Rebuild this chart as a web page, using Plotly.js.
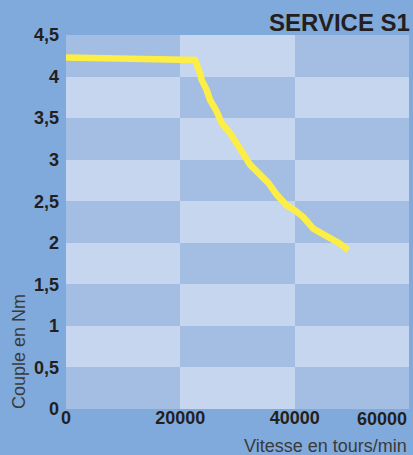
<!DOCTYPE html>
<html>
<head>
<meta charset="utf-8">
<script src="https://cdn.plot.ly/plotly-3.0.1.min.js"></script>
<style>html,body{margin:0;padding:0;background:#80aadb;}#chart{width:413px;height:455px;}</style>
</head>
<body>
<div id="chart"></div>
<script>
// Data
const speed = [0, 10000, 22000, 22570, 23440, 23730, 24600, 25190, 26360, 27230, 28690, 29850, 30730, 32190, 33930, 35390, 36850, 38600, 40060, 41510, 43260, 45010, 46760, 47930, 49390];
const torque = [4.23, 4.22, 4.21, 4.20, 4.04, 3.96, 3.84, 3.72, 3.58, 3.44, 3.32, 3.18, 3.10, 2.94, 2.82, 2.72, 2.58, 2.45, 2.39, 2.31, 2.17, 2.11, 2.05, 1.99, 1.91];

const xTickVals = [0, 20000, 40000];
const xTickText = ["0", "20000", "40000"];
const xLastTick = 60000;
const xLastTickText = "60000";
const yTickVals = [0, 0.5, 1, 1.5, 2, 2.5, 3, 3.5, 4, 4.5];
const yTickText = ["0", "0,5", "1", "1,5", "2", "2,5", "3", "3,5", "4", "4,5"];

const title = "SERVICE S1";
const xTitle = "Vitesse en tours/min";
const yTitle = "Couple en Nm";

// Checkerboard background cells (style)
const cellX = [10000, 30000, 50000];
const cellY = [0.25, 0.75, 1.25, 1.75, 2.25, 2.75, 3.25, 3.75, 4.25];
const cellZ = cellY.map((_, r) => cellX.map((_, c) => ((r + c) % 2 === 0 ? 0 : 1)));

const traces = [
  {
    type: 'heatmap', x: cellX, y: cellY, z: cellZ,
    colorscale: [[0, '#a3bde3'], [1, '#c5d6ee']],
    showscale: false, hoverinfo: 'skip', zsmooth: false
  },
  {
    type: 'scatter', mode: 'lines', x: speed, y: torque,
    line: {color: '#fdee45', width: 6.5, shape: 'linear'},
    hoverinfo: 'skip', cliponaxis: true
  }
];

const font = "'Liberation Sans', Arial, sans-serif";

const layout = {
  width: 413, height: 455,
  margin: {l: 66, r: 4, t: 35, b: 46},
  paper_bgcolor: '#80aadb',
  plot_bgcolor: '#a3bde3',
  showlegend: false,
  font: {family: font, color: '#231f20'},
  xaxis: {
    range: [0, 60000], fixedrange: true,
    tickvals: xTickVals, ticktext: xTickText,
    showgrid: false, zeroline: false, showline: false, ticks: '',
    tickfont: {family: font, size: 18, color: '#231f20', weight: 'bold'},
    ticklabelstandoff: -4
  },
  yaxis: {
    range: [0, 4.5], fixedrange: true,
    tickvals: yTickVals, ticktext: yTickText,
    showgrid: false, zeroline: false, showline: false, ticks: '',
    tickfont: {family: font, size: 18, color: '#231f20', weight: 'bold'},
    ticklabelstandoff: 6
  },
  annotations: [
    {text: '<b>' + title + '</b>', xref: 'paper', yref: 'paper', x: 1.0, y: 1, xshift: 3, yshift: 13,
     xanchor: 'right', yanchor: 'middle', showarrow: false,
     font: {family: font, size: 24, color: '#231f20'}},
    {text: xLastTickText, xref: 'x', yref: 'paper', x: xLastTick, y: 0, yshift: -10,
     xanchor: 'right', yanchor: 'middle', showarrow: false,
     font: {family: font, size: 18, color: '#231f20', weight: 'bold'}},
    {text: xTitle, xref: 'paper', yref: 'paper', x: 1, y: 0, xshift: 0, yshift: -37,
     xanchor: 'right', yanchor: 'middle', showarrow: false,
     font: {family: font, size: 18, color: '#3a3a3a'}},
    {text: yTitle, xref: 'paper', yref: 'paper', x: 0, xshift: -47, y: 0, yshift: 57,
     xanchor: 'center', yanchor: 'middle', textangle: -90, showarrow: false,
     font: {family: font, size: 18, color: '#3a3a3a'}}
  ]
};

Plotly.newPlot('chart', traces, layout, {staticPlot: true, displayModeBar: false});
</script>
</body>
</html>
